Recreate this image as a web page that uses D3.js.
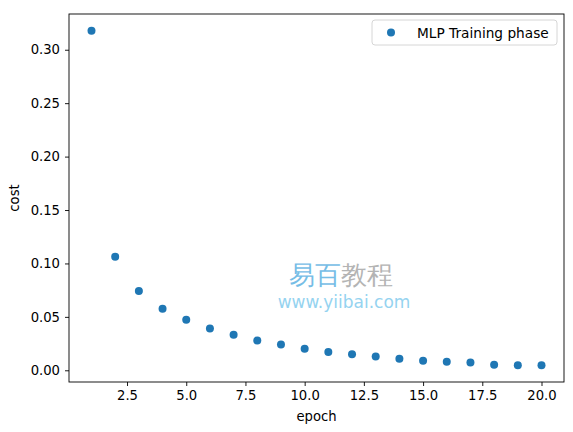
<!DOCTYPE html>
<html>
<head>
<meta charset="utf-8">
<script src="https://cdn.jsdelivr.net/npm/d3@7"></script>
<style>
  body { margin: 0; background: #fff; }
  svg { display: block; }
  text { font-family: "DejaVu Sans", sans-serif; }
</style>
</head>
<body>
<div id="chart"></div>
<script>
const epochs = [1, 2, 3, 4, 5, 6, 7, 8, 9, 10, 11, 12, 13, 14, 15, 16, 17, 18, 19, 20];
const costs = [0.3178, 0.1062, 0.0743, 0.0575, 0.0473, 0.0391, 0.0333, 0.0278, 0.0242, 0.0202,
               0.0171, 0.0149, 0.0128, 0.0109, 0.0090, 0.0081, 0.0072, 0.0053, 0.0047, 0.0047];
const xTicks = [2.5, 5.0, 7.5, 10.0, 12.5, 15.0, 17.5, 20.0];
const yTicks = [0.00, 0.05, 0.10, 0.15, 0.20, 0.25, 0.30];
const seriesName = "MLP Training phase";

const WIDTH = 573;
const HEIGHT = 432;
const margin = { left: 69, right: 9, top: 14, bottom: 50 };
const innerW = WIDTH - margin.left - margin.right;
const innerH = HEIGHT - margin.top - margin.bottom;
const blue = "#1f77b4";
const FS = 13.2;

const svg = d3.select("#chart")
    .append("svg")
        .attr("width", WIDTH)
        .attr("height", HEIGHT)

const g = svg.append("g")
    .attr("transform", `translate(${margin.left},${margin.top})`)

// matplotlib-style 5% margins around the data
const xPad = (d3.max(epochs) - d3.min(epochs)) * 0.05;
const yPad = (d3.max(costs) - d3.min(costs)) * 0.05;

const x = d3.scaleLinear()
    .domain([d3.min(epochs) - xPad, d3.max(epochs) + xPad])
    .range([0, innerW])

const y = d3.scaleLinear()
    .domain([d3.min(costs) - yPad, d3.max(costs) + yPad])
    .range([innerH, 0])

const xAxis = g.append("g")
    .attr("transform", `translate(0,${innerH})`)
    .call(d3.axisBottom(x).tickValues(xTicks).tickFormat(d3.format(".1f")).tickSizeOuter(0).tickSize(4).tickPadding(5))

const yAxis = g.append("g")
    .call(d3.axisLeft(y).tickValues(yTicks).tickFormat(d3.format(".2f")).tickSizeOuter(0).tickSize(4).tickPadding(5))

for (const ax of [xAxis, yAxis]) {
    ax.select(".domain").remove()
    ax.selectAll("text")
        .attr("font-family", "DejaVu Sans, sans-serif")
        .attr("font-size", FS)
        .attr("fill", "#000")
    ax.selectAll("line").attr("stroke", "#000").attr("stroke-width", 0.9)
}

// watermark
const wm = svg.append("text")
    .attr("x", 341)
    .attr("y", 284)
    .attr("text-anchor", "middle")
    .attr("font-family", "Noto Sans CJK SC")
    .attr("font-size", 26)
wm.append("tspan").attr("fill", "#76bde6").text("易百")
wm.append("tspan").attr("fill", "#b4b4b4").text("教程")

svg.append("text")
    .attr("x", 344)
    .attr("y", 308)
    .attr("text-anchor", "middle")
    .attr("font-family", "Open Sans, sans-serif")
    .attr("font-size", 17)
    .attr("fill", "#95d3f0")
    .text("www.yiibai.com")

g.selectAll("circle.pt")
    .data(epochs)
    .enter()
    .append("circle")
        .attr("class", "pt")
        .attr("cx", d => x(d))
        .attr("cy", (d, i) => y(costs[i]))
        .attr("r", 4)
        .attr("fill", blue)

// frame
g.append("rect")
    .attr("width", innerW)
    .attr("height", innerH)
    .attr("fill", "none")
    .attr("stroke", "#000")
    .attr("stroke-width", 0.9)

// axis labels
svg.append("text")
    .attr("x", margin.left + innerW / 2)
    .attr("y", 421)
    .attr("text-anchor", "middle")
    .attr("font-size", FS)
    .text("epoch")

svg.append("text")
    .attr("transform", `translate(19,${margin.top + innerH / 2}) rotate(-90)`)
    .attr("text-anchor", "middle")
    .attr("font-size", FS)
    .text("cost")

// legend
const legend = svg.append("g").attr("transform", "translate(372,20)")
legend.append("rect")
    .attr("width", 185)
    .attr("height", 25)
    .attr("rx", 3)
    .attr("fill", "#fff")
    .attr("fill-opacity", 0.8)
    .attr("stroke", "#d6d6d6")
legend.append("circle")
    .attr("cx", 19)
    .attr("cy", 12.5)
    .attr("r", 4)
    .attr("fill", blue)
legend.append("text")
    .attr("x", 45)
    .attr("y", 17.5)
    .attr("font-size", 13.7)
    .text(seriesName)
</script>
</body>
</html>
